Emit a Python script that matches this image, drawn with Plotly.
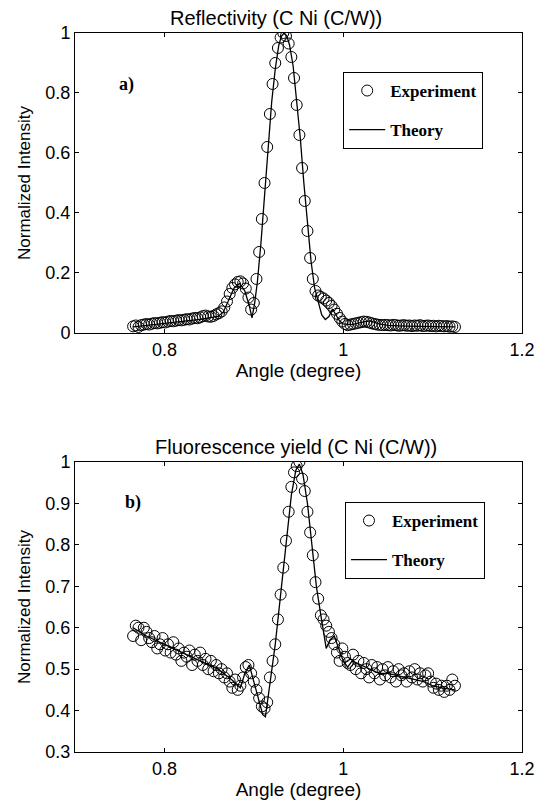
import plotly.graph_objects as go

# experiment: measured on a uniform angle grid
ANGLE_START = 0.765
ANGLE_STEP = 0.003

# a) reflectivity, experiment
REFL_EXP = [
    0.022, 0.025, 0.020, 0.026, 0.028, 0.030, 0.028, 0.031, 0.033, 0.032,
    0.034, 0.036, 0.035, 0.038, 0.040, 0.039, 0.041, 0.043, 0.042, 0.044,
    0.046, 0.045, 0.048, 0.050, 0.049, 0.052, 0.056, 0.058, 0.055, 0.054,
    0.057, 0.062, 0.066, 0.072, 0.085, 0.105, 0.130, 0.150, 0.162, 0.170,
    0.172, 0.165, 0.148, 0.118, 0.078, 0.100, 0.180, 0.270, 0.380, 0.500,
    0.620, 0.730, 0.830, 0.900, 0.950, 0.985, 1.000, 0.990, 0.965, 0.920,
    0.850, 0.760, 0.660, 0.550, 0.440, 0.340, 0.250, 0.180, 0.140, 0.125,
    0.120, 0.115, 0.108, 0.100, 0.090, 0.078, 0.064, 0.050, 0.038, 0.030,
    0.026, 0.028, 0.030, 0.032, 0.034, 0.036, 0.038, 0.037, 0.035, 0.032,
    0.030, 0.028, 0.027, 0.026, 0.027, 0.026, 0.025, 0.027, 0.026, 0.024,
    0.025, 0.026, 0.024, 0.025, 0.023, 0.025, 0.024, 0.026, 0.023, 0.024,
    0.025, 0.023, 0.024, 0.022, 0.024, 0.023, 0.022, 0.023, 0.021, 0.022,
    0.020,
]

# a) reflectivity, theory
REFL_TH_ANGLE = [
    0.765, 0.780, 0.800, 0.820, 0.840, 0.850, 0.860, 0.866, 0.872, 0.878,
    0.884, 0.890, 0.895, 0.898, 0.901, 0.904, 0.908, 0.912, 0.916, 0.920,
    0.924, 0.928, 0.931, 0.934, 0.937, 0.940, 0.944, 0.948, 0.952, 0.956,
    0.960, 0.964, 0.968, 0.972, 0.976, 0.980, 0.984, 0.988, 0.992, 0.996,
    1.000, 1.010, 1.020, 1.030, 1.040, 1.050, 1.070, 1.090, 1.110, 1.125,
]
REFL_TH = [
    0.020, 0.025, 0.030, 0.038, 0.045, 0.050, 0.055, 0.070, 0.110, 0.150,
    0.165, 0.140, 0.090, 0.050, 0.100, 0.170, 0.300, 0.460, 0.620, 0.770,
    0.880, 0.960, 0.990, 1.000, 0.990, 0.960, 0.890, 0.780, 0.650, 0.500,
    0.360, 0.240, 0.150, 0.100, 0.060, 0.045, 0.055, 0.080, 0.060, 0.040,
    0.030, 0.028, 0.035, 0.040, 0.030, 0.025, 0.023, 0.022, 0.020, 0.020,
]

# b) fluorescence yield, experiment
FLUO_EXP = [
    0.580, 0.605, 0.600, 0.570, 0.600, 0.590, 0.575, 0.565, 0.580, 0.550,
    0.560, 0.575, 0.545, 0.560, 0.540, 0.565, 0.535, 0.550, 0.520, 0.540,
    0.530, 0.545, 0.510, 0.535, 0.520, 0.540, 0.510, 0.525, 0.500, 0.520,
    0.495, 0.510, 0.490, 0.500, 0.480, 0.490, 0.470, 0.455, 0.475, 0.450,
    0.460, 0.480, 0.505, 0.510, 0.490, 0.470, 0.450, 0.430, 0.410, 0.405,
    0.420, 0.480, 0.520, 0.560, 0.620, 0.680, 0.745, 0.810, 0.880, 0.940,
    0.975, 0.990, 1.000, 0.960, 0.930, 0.880, 0.830, 0.775, 0.710, 0.670,
    0.630, 0.620, 0.605, 0.590, 0.575, 0.560, 0.540, 0.520, 0.550, 0.530,
    0.515, 0.510, 0.535, 0.500, 0.520, 0.490, 0.515, 0.500, 0.480, 0.510,
    0.490, 0.505, 0.475, 0.500, 0.485, 0.505, 0.480, 0.495, 0.470, 0.500,
    0.485, 0.490, 0.470, 0.495, 0.480, 0.500, 0.475, 0.490, 0.470, 0.485,
    0.490, 0.470, 0.455, 0.465, 0.450, 0.460, 0.445, 0.460, 0.450, 0.475,
    0.460,
]

# b) fluorescence yield, theory
FLUO_TH_ANGLE = [
    0.765, 0.780, 0.800, 0.820, 0.840, 0.860, 0.875, 0.885, 0.890, 0.895,
    0.900, 0.905, 0.910, 0.913, 0.918, 0.924, 0.930, 0.936, 0.942, 0.947,
    0.951, 0.955, 0.960, 0.965, 0.970, 0.975, 0.978, 0.981, 0.985, 0.990,
    0.995, 1.000, 1.005, 1.010, 1.020, 1.030, 1.040, 1.050, 1.060, 1.070,
    1.080, 1.090, 1.100, 1.110, 1.125,
]
FLUO_TH = [
    0.600, 0.580, 0.560, 0.540, 0.520, 0.500, 0.475, 0.455, 0.490, 0.510,
    0.470, 0.430, 0.390, 0.385, 0.470, 0.560, 0.680, 0.800, 0.920, 0.980,
    0.995, 0.970, 0.900, 0.800, 0.700, 0.630, 0.590, 0.550, 0.570, 0.580,
    0.550, 0.520, 0.505, 0.520, 0.510, 0.500, 0.490, 0.490, 0.485, 0.480,
    0.475, 0.470, 0.460, 0.455, 0.450,
]

SANS = "Liberation Sans, Arial, sans-serif"
SERIF = "Liberation Serif, Times New Roman, serif"

circle = dict(symbol="circle-open", size=11, color="black", line=dict(width=1, color="black"))

fig = go.Figure()

# top panel
fig.add_trace(go.Scatter(y=REFL_EXP, x0=ANGLE_START, dx=ANGLE_STEP, mode="markers",
                         name="<b>Experiment</b>", legend="legend", legendgroup="e1",
                         marker=circle, xaxis="x", yaxis="y"))
fig.add_trace(go.Scatter(x=REFL_TH_ANGLE, y=REFL_TH, mode="lines", name="<b>Theory</b>",
                         legend="legend", legendgroup="t1",
                         line=dict(color="black", width=1.3), xaxis="x", yaxis="y"))

# bottom panel
fig.add_trace(go.Scatter(y=FLUO_EXP, x0=ANGLE_START, dx=ANGLE_STEP, mode="markers",
                         name="<b>Experiment</b>", legend="legend2", legendgroup="e2",
                         marker=circle, xaxis="x2", yaxis="y2"))
fig.add_trace(go.Scatter(x=FLUO_TH_ANGLE, y=FLUO_TH, mode="lines", name="<b>Theory</b>",
                         legend="legend2", legendgroup="t2",
                         line=dict(color="black", width=1.3), xaxis="x2", yaxis="y2"))

ax_common = dict(showline=True, linecolor="black", linewidth=1, mirror="ticks",
                 ticks="inside", ticklen=4, tickcolor="black", showgrid=False,
                 zeroline=False, automargin=False,
                 tickfont=dict(family=SANS, size=18, color="black"))

xticks = dict(tickvals=[0.8, 1.0, 1.2], ticktext=["0.8", "1", "1.2"])
xtitle = dict(text="Angle (degree)", font=dict(family=SANS, size=19, color="black"),
              standoff=0)
ytitle = dict(text="Normalized Intensity", font=dict(family=SANS, size=17, color="black"),
              standoff=10)

legend_common = dict(xanchor="left", yanchor="top", bordercolor="black", borderwidth=1,
                     bgcolor="white", traceorder="grouped", tracegroupgap=14,
                     itemwidth=36, font=dict(family=SERIF, size=17, color="black"))

# the page body adds 8px around the plot, so the figure is 8px smaller each way
fig.update_layout(
    width=540, height=804,
    margin=dict(l=67, r=26, t=25, b=60),
    paper_bgcolor="white", plot_bgcolor="white",
    showlegend=True,
    xaxis=dict(domain=[0, 1], range=[0.7, 1.2], anchor="y", title=xtitle,
               **xticks, **ax_common),
    yaxis=dict(domain=[0.5828, 1], range=[0, 1], anchor="x", title=ytitle,
               tickvals=[0, 0.2, 0.4, 0.6, 0.8, 1.0],
               ticktext=["0", "0.2", "0.4", "0.6", "0.8", "1"], **ax_common),
    xaxis2=dict(domain=[0, 1], range=[0.7, 1.2], anchor="y2", title=xtitle,
                **xticks, **ax_common),
    yaxis2=dict(domain=[0, 0.4033], range=[0.3, 1], anchor="x2", title=ytitle,
                tickvals=[0.3, 0.4, 0.5, 0.6, 0.7, 0.8, 0.9, 1.0],
                ticktext=["0.3", "0.4", "0.5", "0.6", "0.7", "0.8", "0.9", "1"],
                **ax_common),
    legend=dict(x=0.6, y=0.9458, **legend_common),
    legend2=dict(x=0.604, y=0.3477, **legend_common),
    annotations=[
        dict(text="Reflectivity (C Ni (C/W))", x=0.45, y=1.0, xref="paper", yref="paper",
             yanchor="bottom", yshift=2, showarrow=False,
             font=dict(family=SANS, size=20, color="black")),
        dict(text="Fluorescence yield (C Ni (C/W))", x=0.494, y=0.4033, xref="paper",
             yref="paper", yanchor="bottom", yshift=2, showarrow=False,
             font=dict(family=SANS, size=20, color="black")),
        dict(text="<b>a)</b>", x=0.094, y=0.9458, xref="paper", yref="paper",
             showarrow=False, font=dict(family=SERIF, size=18, color="black")),
        dict(text="<b>b)</b>", x=0.107, y=0.3477, xref="paper", yref="paper",
             showarrow=False, font=dict(family=SERIF, size=18, color="black")),
    ],
)

fig.write_html("out.html")
